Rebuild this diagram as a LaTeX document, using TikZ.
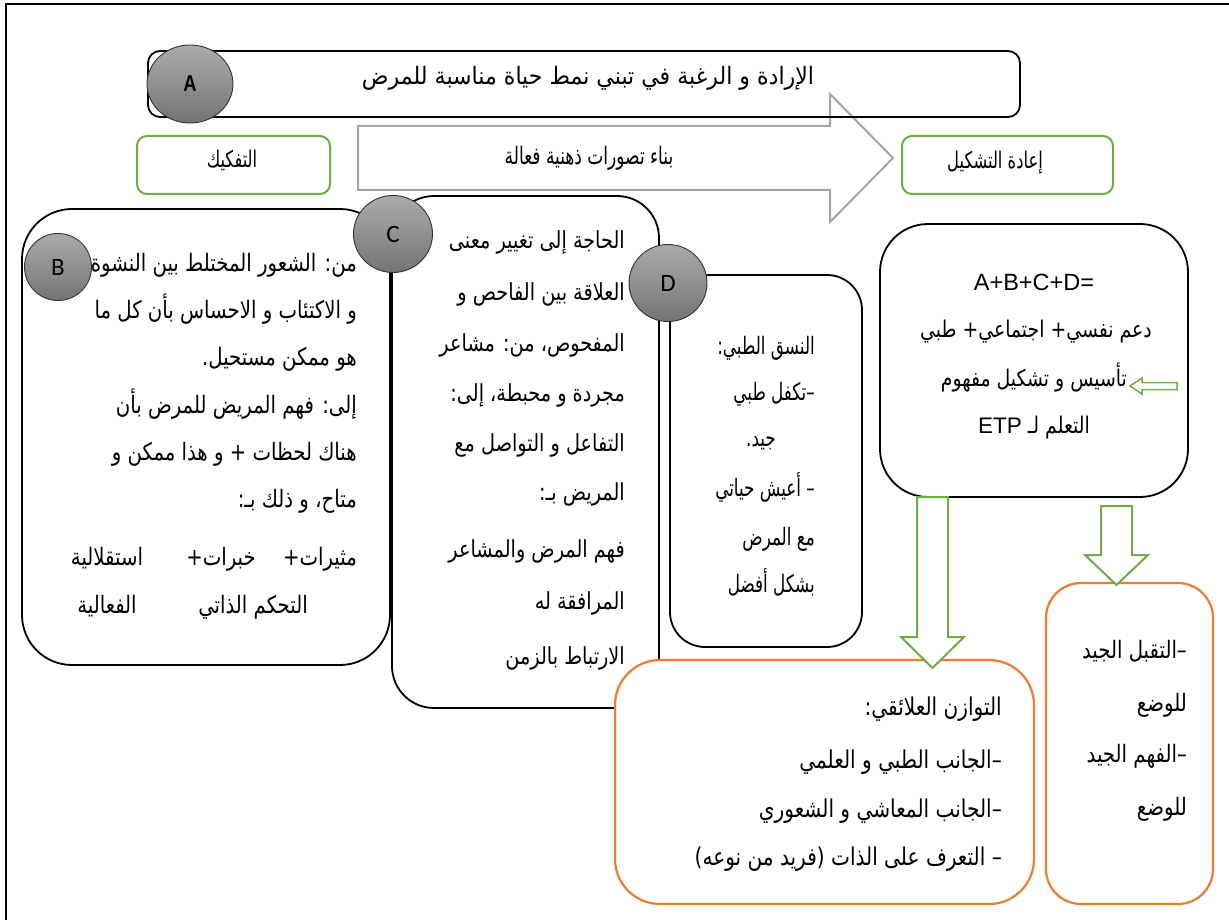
\documentclass[tikz,border=0pt]{standalone}
\usepackage{fontspec}
\usetikzlibrary{shapes.geometric}
\setmainfont{Liberation Sans}
\newfontfamily\arfont[Script=Arabic,FakeStretch=0.82]{DejaVu Sans}
\newfontfamily\arslim[Script=Arabic,FakeStretch=0.7]{DejaVu Sans}
\newfontfamily\artitle[Script=Arabic,FakeStretch=0.92]{DejaVu Sans}
\newfontfamily\arlabel[Script=Arabic,FakeStretch=0.71]{DejaVu Sans}
\newfontfamily\calfont{Carlito}
\newfontfamily\narrowsans[FakeStretch=0.8]{Liberation Sans}
\TeXXeTstate=1
\newcommand\rtl[1]{\beginR#1\endR}
\definecolor{grn}{HTML}{70AD47}
\definecolor{org}{HTML}{ED7D31}
\definecolor{arrgray}{HTML}{A5A5A5}
\definecolor{badgetop}{HTML}{ABABAB}
\definecolor{badgebot}{HTML}{747474}

\tikzset{
  blackbox/.style={draw=black, line width=1.8pt, fill=white, inner sep=0pt},
  greenbox/.style={draw=grn, line width=2pt, fill=white, rounded corners=10pt, inner sep=0pt},
  orangebox/.style={draw=org, line width=2.2pt, fill=white, inner sep=0pt},
  badge/.style={ellipse, draw=black!80, line width=0.9pt, top color=badgetop, bottom color=badgebot, inner sep=0pt},
  hollowgreen/.style={draw=grn, line width=2pt, fill=white, line join=miter},
  bigarrow/.style={draw=arrgray, line width=2pt, fill=white, line join=miter},
  rline/.style={anchor=east, inner sep=0pt, text height=14pt, text depth=4pt},
  lline/.style={anchor=west, inner sep=0pt, text height=14pt, text depth=4pt},
  cline/.style={anchor=center, inner sep=0pt, text height=14pt, text depth=4pt},
  txtB/.style={font=\arfont\fontsize{24}{26}\selectfont},
  txtC/.style={font=\arfont\fontsize{23.5}{26}\selectfont},
  txtD/.style={font=\arslim\fontsize{24}{26}\selectfont},
  txtE/.style={font=\arfont\fontsize{23}{26}\selectfont},
  txtF/.style={font=\arfont\fontsize{24.5}{27}\selectfont},
  txtG/.style={font=\arfont\fontsize{24}{26}\selectfont},
  txtTitle/.style={font=\artitle\fontsize{24}{26}\selectfont},
  txtArrow/.style={font=\arlabel\fontsize{24}{26}\selectfont},
  txtPhase/.style={font=\arlabel\fontsize{23}{26}\selectfont},
}

\begin{document}
\begin{tikzpicture}[x=1pt,y=-1pt]
\useasboundingbox (0,0) rectangle (1229,920);

% page frame (top and left edges)
\coordinate (frameBL) at (6,920);
\coordinate (frameTL) at (6,4);
\coordinate (frameTR) at (1229,4);
\draw[line width=1.6pt] (frameBL) -- (frameTL) -- (frameTR);

% large hollow arrow
\draw[bigarrow] (358,126) -- (830,126) -- (830,94) -- (893,158) -- (830,222) -- (830,190) -- (358,190) -- cycle;
\node[cline, txtArrow] (arrowtext) at (589,160) {\rtl{بناء تصورات ذهنية فعالة}};

% title bar
\node[draw=black, line width=1.8pt, rounded corners=12pt, minimum width=872pt, minimum height=66pt, inner sep=0pt] (title) at (584,84) {};
\node[cline, txtTitle] (titletext) at (588,80) {\rtl{الإرادة و الرغبة في تبني نمط حياة مناسبة للمرض}};
\node[badge, minimum width=86pt, minimum height=78pt] (cA) at (190,84) {\narrowsans\bfseries\fontsize{23}{23}\selectfont A};

% phase labels
\node[greenbox, minimum width=193pt, minimum height=58pt] (decon) at (233.5,165) {};
\node[cline, txtPhase] (decontext) at (232,163) {\rtl{التفكيك}};
\node[greenbox, minimum width=211pt, minimum height=58pt] (recon) at (1007.5,165) {};
\node[cline, txtPhase] (recontext) at (995,164) {\rtl{إعادة التشكيل}};

% block B
\node[blackbox, rounded corners=50pt, minimum width=368pt, minimum height=456pt] (boxB) at (206,437) {};
\node[rline, txtB] (b1) at (357,266) {\rtl{من: الشعور المختلط بين النشوة}};
\node[rline, txtB] (b2) at (357,313) {\rtl{و الاكتئاب و الاحساس بأن كل ما}};
\node[rline, txtB] (b3) at (357,360) {\rtl{هو ممكن مستحيل.}};
\node[rline, txtB] (b4) at (357,408) {\rtl{إلى: فهم المريض للمرض بأن}};
\node[rline, txtB] (b5) at (357,455) {\rtl{هناك لحظات + و هذا ممكن و}};
\node[rline, txtB] (b6) at (357,502) {\rtl{متاح، و ذلك بـ:}};
\node[rline, txtB] (b7a) at (357,560) {\rtl{مثيرات+}};
\node[cline, txtB] (b7b) at (221,560) {\rtl{خبرات+}};
\node[cline, txtB] (b7c) at (107,560) {\rtl{استقلالية}};
\node[cline, txtB] (b8a) at (253,608) {\rtl{التحكم الذاتي}};
\node[cline, txtB] (b8b) at (107,608) {\rtl{الفعالية}};

% block C
\node[blackbox, rounded corners=42pt, minimum width=267pt, minimum height=512pt] (boxC) at (525.5,452) {};
\node[rline, txtC] (c1) at (625,244) {\rtl{الحاجة إلى تغيير معنى}};
\node[rline, txtC] (c2) at (625,295) {\rtl{العلاقة بين الفاحص و}};
\node[rline, txtC] (c3) at (625,346) {\rtl{المفحوص، من: مشاعر}};
\node[rline, txtC] (c4) at (625,396) {\rtl{مجردة و محبطة، إلى:}};
\node[rline, txtC] (c5) at (625,446) {\rtl{التفاعل و التواصل مع}};
\node[rline, txtC] (c6) at (625,495) {\rtl{المريض بـ:}};
\node[rline, txtC] (c7) at (625,552) {\rtl{فهم المرض والمشاعر}};
\node[rline, txtC] (c8) at (625,604) {\rtl{المرافقة له}};
\node[rline, txtC] (c9) at (625,659) {\rtl{الارتباط بالزمن}};

% badges B and C
\node[badge, minimum width=67pt, minimum height=67pt] (cB) at (58,267) {\calfont\fontsize{25}{25}\selectfont B};
\node[badge, minimum width=79pt, minimum height=77pt] (cC) at (393,234) {\calfont\fontsize{25}{25}\selectfont C};

% block D
\node[blackbox, rounded corners=35pt, minimum width=192pt, minimum height=372pt] (boxD) at (766,461) {};
\node[rline, txtD] (d1) at (815,349) {\rtl{النسق الطبي:}};
\node[rline, txtD] (d2) at (815,395) {\rtl{–تكفل طبي}};
\node[lline, txtD] (d3) at (746,441) {\rtl{جيد.}};
\node[rline, txtD] (d4) at (815,491) {\rtl{– أعيش حياتي}};
\node[rline, txtD] (d5) at (815,540) {\rtl{مع المرض}};
\node[rline, txtD] (d6) at (815,587) {\rtl{بشكل أفضل}};
\node[badge, minimum width=78pt, minimum height=77pt] (cD) at (668,283) {\calfont\fontsize{25}{25}\selectfont D};

% block E
\node[blackbox, rounded corners=48pt, minimum width=308pt, minimum height=273pt] (boxE) at (1034,360.5) {};
\node[cline, font=\fontsize{23.5}{26}\selectfont] (e1) at (1034,285) {A+B+C+D=};
\node[cline, txtE] (e2) at (1036,332) {\rtl{دعم نفسي+ اجتماعي+ طبي}};
\node[rline, txtE] (e3) at (1127,381) {\rtl{تأسيس و تشكيل مفهوم}};
\node[cline, txtE] (e4) at (1034,428) {\rtl{التعلم لـ \beginL{\fontspec{Liberation Sans}\fontsize{22.5}{24}\selectfont ETP}\endL}};
\coordinate (smalltip) at (1130,386);
\draw[draw=grn, line width=1.5pt, fill=white, line join=miter] (smalltip) -- ++(12,-8) -- ++(0,4.5) -- ++(35,0) -- ++(0,7) -- ++(-35,0) -- ++(0,4.5) -- cycle;

% block F
\node[orangebox, rounded corners=45pt, minimum width=419pt, minimum height=244pt] (boxF) at (824.5,782) {};
\node[rline, txtF] (f1) at (1002,710) {\rtl{التوازن العلائقي:}};
\node[rline, txtF] (f2) at (1002,763) {\rtl{–الجانب الطبي و العلمي}};
\node[rline, txtF] (f3) at (1002,812) {\rtl{–الجانب المعاشي و الشعوري}};
\node[rline, txtF] (f4) at (1002,860) {\rtl{– التعرف على الذات (فريد من نوعه)}};

% block G
\node[orangebox, rounded corners=35pt, minimum width=167pt, minimum height=321pt] (boxG) at (1129.5,743.5) {};
\node[rline, txtG] (g1) at (1187,653) {\rtl{–التقبل الجيد}};
\node[rline, txtG] (g2) at (1187,706) {\rtl{للوضع}};
\node[rline, txtG] (g3) at (1187,757) {\rtl{–الفهم الجيد}};
\node[rline, txtG] (g4) at (1187,810) {\rtl{للوضع}};

% hollow block arrows from E to F and G
\draw[hollowgreen] (917,497) -- (948,497) -- (948,637) -- (964,637) -- (932.5,668) -- (901,637) -- (917,637) -- cycle;
\draw[hollowgreen] (1101,506) -- (1132,506) -- (1132,555) -- (1148,555) -- (1116.5,585) -- (1085,555) -- (1101,555) -- cycle;
\end{tikzpicture}
\end{document}
